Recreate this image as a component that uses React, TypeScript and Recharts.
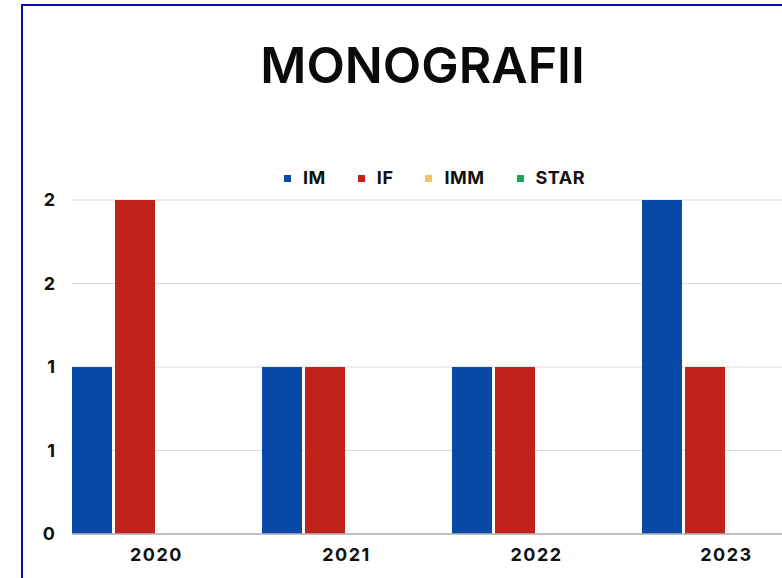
import React from "react";
import { BarChart, Bar, XAxis, YAxis, CartesianGrid } from "recharts";

const categories = ["2020", "2021", "2022", "2023"];
const seriesNames = ["IM", "IF", "IMM", "STAR"];
const imValues = [1, 1, 1, 2];
const ifValues = [2, 1, 1, 1];
const immValues = [0, 0, 0, 0];
const starValues = [0, 0, 0, 0];
const yTicks = [0, 0.5, 1, 1.5, 2];
const colors = ["#0b49a9", "#c1231a", "#f6c064", "#16a85a"];
const title = "MONOGRAFII";

const data = categories.map((c, i) => ({
  year: c,
  IM: imValues[i],
  IF: ifValues[i],
  IMM: immValues[i],
  STAR: starValues[i],
}));

const FONT = "Inter, 'Noto Sans', sans-serif";

export default function App() {
  return (
    <div
      style={{
        position: "fixed",
        left: 0,
        top: 0,
        width: 782,
        height: 578,
        overflow: "hidden",
        background: "#ffffff",
        fontFamily: FONT,
      }}
    >
      <div
        style={{
          position: "absolute",
          left: 21,
          top: 4,
          width: 900,
          height: 700,
          border: "2px solid #0c0ca2",
          boxSizing: "border-box",
        }}
      />
      <div
        style={{
          position: "absolute",
          left: 0,
          top: 40,
          width: 845,
          textAlign: "center",
          fontSize: 50,
          lineHeight: "50px",
          fontWeight: 600,
          color: "#0a0a0a",
          letterSpacing: 0,
        }}
      >
        {title}
      </div>
      <div
        style={{
          position: "absolute",
          left: 284,
          top: 168,
          display: "flex",
          alignItems: "center",
          fontSize: 18,
          fontWeight: 700,
          color: "#111",
          lineHeight: "20px",
          letterSpacing: 0.5,
        }}
      >
        {seriesNames.map((n, i) => (
          <div key={n} style={{ display: "flex", alignItems: "center", marginRight: 32 }}>
            <div style={{ width: 7, height: 7, background: colors[i], marginRight: 12 }} />
            <span>{n}</span>
          </div>
        ))}
      </div>
      <BarChart
        width={830}
        height={578}
        data={data}
        margin={{ top: 200, right: 8.5, bottom: 14, left: 0 }}
        barCategoryGap={10.5}
        barGap={3}
        style={{ position: "absolute", left: 0, top: 0 }}
      >
        <CartesianGrid vertical={false} stroke="#d9d9d9" strokeWidth={1} />
        <XAxis
          dataKey="year"
          padding={{ left: -10.5, right: 0 }}
          axisLine={{ stroke: "#b5b5b5", strokeWidth: 1.5 }}
          tickLine={false}
          tickMargin={8}
          height={30}
          tick={{ fill: "#111", fontSize: 18, fontWeight: 700, fontFamily: FONT, letterSpacing: 1.5 }}
        />
        <YAxis
          width={72}
          domain={[0, 2]}
          ticks={yTicks}
          interval={0}
          axisLine={false}
          tickLine={false}
          tickMargin={11}
          tickFormatter={(v: number) => String(Math.round(v))}
          tick={{ fill: "#111", fontSize: 18, fontWeight: 700, fontFamily: FONT }}
        />
        {seriesNames.map((n, i) => (
          <Bar key={n} dataKey={n} fill={colors[i]} isAnimationActive={false} />
        ))}
      </BarChart>
    </div>
  );
}
